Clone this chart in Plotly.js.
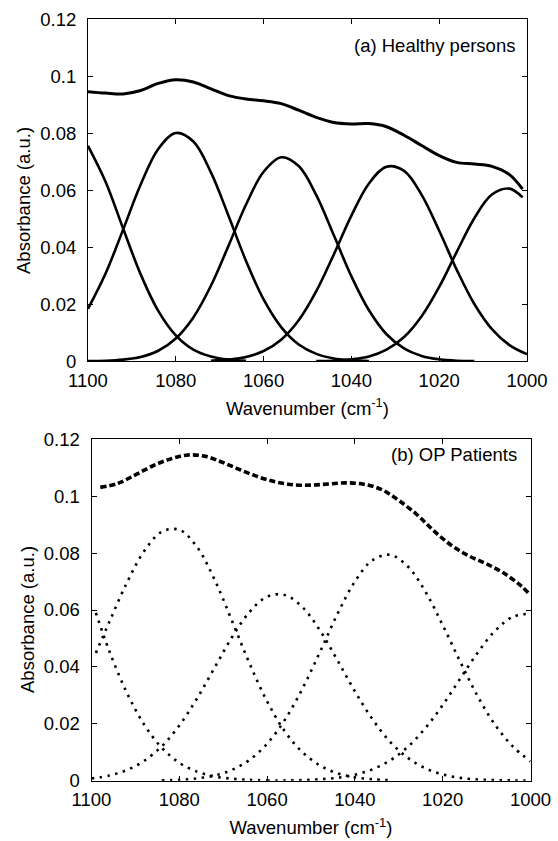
<!DOCTYPE html>
<html>
<head>
<meta charset="utf-8">
<script src="https://cdn.plot.ly/plotly-3.0.1.min.js"></script>
<style>html,body{margin:0;padding:0;background:#fff}#chart{width:558px;height:841px}</style>
</head>
<body>
<div id="chart"></div>
<script>
// ---- Panel (a): Healthy persons ----
const wnTopSum = [1100,1096,1092,1088,1084,1080,1076,1072,1068,1064,1060,1056,1052,1048,1044,1040,1036,1032,1028,1024,1020,1016,1012,1008,1004,1001];
const absTopSum = [0.0946,0.0941,0.0938,0.0950,0.0975,0.0988,0.0980,0.0956,0.0932,0.0920,0.0914,0.0904,0.0881,0.0856,0.0838,0.0833,0.0834,0.0823,0.0793,0.0757,0.0722,0.0698,0.0692,0.0684,0.0655,0.0604];

const wnTopC1 = [1100,1096,1092,1088,1084,1080,1076,1072,1068,1064];
const absTopC1 = [0.0756,0.0630,0.0466,0.0305,0.0177,0.0091,0.0041,0.0017,0.0006,0.0002];

const wnTopC2 = [1100,1096,1092,1088,1084,1080,1076,1072,1068,1064,1060,1056,1052,1048,1044,1040,1036];
const absTopC2 = [0.0184,0.0308,0.0462,0.0620,0.0745,0.0801,0.0771,0.0663,0.0511,0.0352,0.0217,0.0120,0.0059,0.0026,0.0010,0.0004,0.0001];

const wnTopC3 = [1100,1096,1092,1088,1084,1080,1076,1072,1068,1064,1060,1056,1052,1048,1044,1040,1036,1032,1028,1024,1020,1016,1012];
const absTopC3 = [0.0001,0.0002,0.0006,0.0015,0.0037,0.0080,0.0154,0.0265,0.0405,0.0550,0.0665,0.0716,0.0685,0.0583,0.0442,0.0298,0.0179,0.0095,0.0045,0.0019,0.0007,0.0002,0.0001];

const wnTopC4 = [1072,1068,1064,1060,1056,1052,1048,1044,1040,1036,1032,1028,1024,1020,1016,1012,1008,1004,1000];
const absTopC4 = [0.0002,0.0006,0.0015,0.0036,0.0076,0.0144,0.0246,0.0375,0.0511,0.0624,0.0683,0.0668,0.0584,0.0458,0.0321,0.0201,0.0113,0.0057,0.0025];

const wnTopC5 = [1048,1044,1040,1036,1032,1028,1024,1020,1016,1012,1008,1004,1001];
const absTopC5 = [0.0001,0.0002,0.0007,0.0017,0.0041,0.0085,0.0158,0.0261,0.0384,0.0502,0.0585,0.0606,0.0575];

// ---- Panel (b): OP Patients ----
const wnBotSum = [1098,1094,1090,1086,1082,1078,1074,1070,1066,1062,1058,1054,1050,1046,1042,1038,1034,1030,1026,1022,1018,1014,1010,1006,1002,1000.5];
const absBotSum = [0.1031,0.1045,0.1075,0.1107,0.1131,0.1145,0.1140,0.1118,0.1092,0.1068,0.1050,0.1040,0.1039,0.1043,0.1047,0.1042,0.1024,0.0985,0.0937,0.0878,0.0827,0.0790,0.0762,0.0729,0.0683,0.0660];

const wnBotD1 = [1099,1096,1092,1088,1084,1080,1076,1072,1068,1064,1060];
const absBotD1 = [0.0590,0.0458,0.0311,0.0197,0.0116,0.0063,0.0032,0.0015,0.0007,0.0003,0.0001];

const wnBotD2 = [1099,1096,1092,1088,1084,1080,1076,1072,1068,1064,1060,1056,1052,1048,1044,1040,1036,1032];
const absBotD2 = [0.0449,0.0556,0.0694,0.0807,0.0875,0.0882,0.0822,0.0708,0.0562,0.0412,0.0279,0.0174,0.0101,0.0054,0.0026,0.0012,0.0005,0.0002];

const wnBotD3 = [1100,1096,1092,1088,1084,1080,1076,1072,1068,1064,1060,1056,1052,1048,1044,1040,1036,1032,1028,1024,1020,1016,1012,1008,1004,1000];
const absBotD3 = [0.0008,0.0018,0.0037,0.0070,0.0121,0.0194,0.0288,0.0396,0.0504,0.0593,0.0647,0.0653,0.0611,0.0529,0.0424,0.0314,0.0216,0.0137,0.0081,0.0044,0.0022,0.0010,0.0004,0.0002,0.0001,0.0000];

const wnBotD4 = [1084,1080,1076,1072,1068,1064,1060,1056,1052,1048,1044,1040,1036,1032,1028,1024,1020,1016,1012,1008,1004,1000];
const absBotD4 = [0.0001,0.0003,0.0008,0.0018,0.0038,0.0073,0.0130,0.0213,0.0322,0.0451,0.0585,0.0700,0.0775,0.0794,0.0754,0.0666,0.0547,0.0418,0.0296,0.0195,0.0120,0.0068];

const wnBotD5 = [1060,1056,1052,1048,1044,1040,1036,1032,1028,1024,1020,1016,1012,1008,1004,1000];
const absBotD5 = [0.0000,0.0001,0.0002,0.0005,0.0010,0.0021,0.0040,0.0071,0.0118,0.0184,0.0266,0.0359,0.0451,0.0528,0.0576,0.0587];

const yTicks = [0,0.02,0.04,0.06,0.08,0.1,0.12];
const yTickText = ['0','0.02','0.04','0.06','0.08','0.1','0.12'];
const xTicks = [1100,1080,1060,1040,1020,1000];

const FONT = 'Arial, "Liberation Sans", sans-serif';
const FS = 18.5;

function line(x, y, ax, width, dash) {
  return {x: x, y: y, type: 'scatter', mode: 'lines', xaxis: ax[0], yaxis: ax[1],
    line: {color: '#000', width: width, dash: dash || 'solid', shape: 'spline', smoothing: 1},
    showlegend: false, hoverinfo: 'skip'};
}
const A = ['x','y'], B = ['x2','y2'];
const DOT = '2.5px,5.5px';
const traces = [
  line(wnTopC1, absTopC1, A, 2.6),
  line(wnTopC2, absTopC2, A, 2.6),
  line(wnTopC3, absTopC3, A, 2.6),
  line(wnTopC4, absTopC4, A, 2.6),
  line(wnTopC5, absTopC5, A, 2.6),
  line(wnTopSum, absTopSum, A, 3),
  line(wnBotD1, absBotD1, B, 2.6, DOT),
  line(wnBotD2, absBotD2, B, 2.6, DOT),
  line(wnBotD3, absBotD3, B, 2.6, DOT),
  line(wnBotD4, absBotD4, B, 2.6, DOT),
  line(wnBotD5, absBotD5, B, 2.6, DOT),
  line(wnBotSum, absBotSum, B, 3.6, '6px,3px')
];

function xa(domain, anchor) {
  return {domain: domain, anchor: anchor, range: [1100, 1000], autorange: false,
    tickmode: 'array', tickvals: xTicks, ticks: 'inside', ticklen: 5, tickwidth: 1, tickcolor: '#000',
    showline: true, linecolor: '#000', linewidth: 1, mirror: 'ticks', showgrid: false, zeroline: false,
    tickfont: {family: FONT, size: FS, color: '#000'}, ticklabelstandoff: 2,
    title: {text: 'Wavenumber (cm<sup>-1</sup>)', font: {family: FONT, size: FS, color: '#000'}, standoff: 12},
    automargin: false, fixedrange: true};
}
function ya(domain, anchor) {
  return {domain: domain, anchor: anchor, range: [0, 0.12], autorange: false,
    tickmode: 'array', tickvals: yTicks, ticktext: yTickText, ticks: 'inside', ticklen: 5, tickwidth: 1, tickcolor: '#000',
    showline: true, linecolor: '#000', linewidth: 1, mirror: 'ticks', showgrid: false, zeroline: false,
    tickfont: {family: FONT, size: FS, color: '#000'}, ticklabelstandoff: 7,
    automargin: false, fixedrange: true};
}

const W = 558, H = 841;
const layout = {
  width: W, height: H,
  margin: {l: 0, r: 0, t: 0, b: 0},
  paper_bgcolor: '#fff', plot_bgcolor: '#fff',
  font: {family: FONT, size: FS, color: '#000'},
  xaxis: xa([88/W, 527/W], 'y'),
  yaxis: ya([1 - 361.3/H, 1 - 19.3/H], 'x'),
  xaxis2: xa([91.5/W, 530.5/W], 'y2'),
  yaxis2: ya([1 - 780.7/H, 1 - 439.3/H], 'x2'),
  annotations: [
    {text: '(a) Healthy persons', xref: 'paper', yref: 'paper', x: 517/W, y: 1 - 45/H,
     xanchor: 'right', yanchor: 'middle', showarrow: false, font: {family: FONT, size: FS, color: '#000'}},
    {text: '(b) OP Patients', xref: 'paper', yref: 'paper', x: 518.5/W, y: 1 - 455/H,
     xanchor: 'right', yanchor: 'middle', showarrow: false, font: {family: FONT, size: FS, color: '#000'}},
    {text: 'Absorbance (a.u.)', xref: 'paper', yref: 'paper', x: 24/W, y: 1 - 201/H, textangle: -90,
     xanchor: 'center', yanchor: 'middle', showarrow: false, font: {family: FONT, size: FS, color: '#000'}},
    {text: 'Absorbance (a.u.)', xref: 'paper', yref: 'paper', x: 27/W, y: 1 - 620/H, textangle: -90,
     xanchor: 'center', yanchor: 'middle', showarrow: false, font: {family: FONT, size: FS, color: '#000'}}
  ]
};

Plotly.newPlot('chart', traces, layout, {staticPlot: true, displayModeBar: false});
</script>
</body>
</html>
